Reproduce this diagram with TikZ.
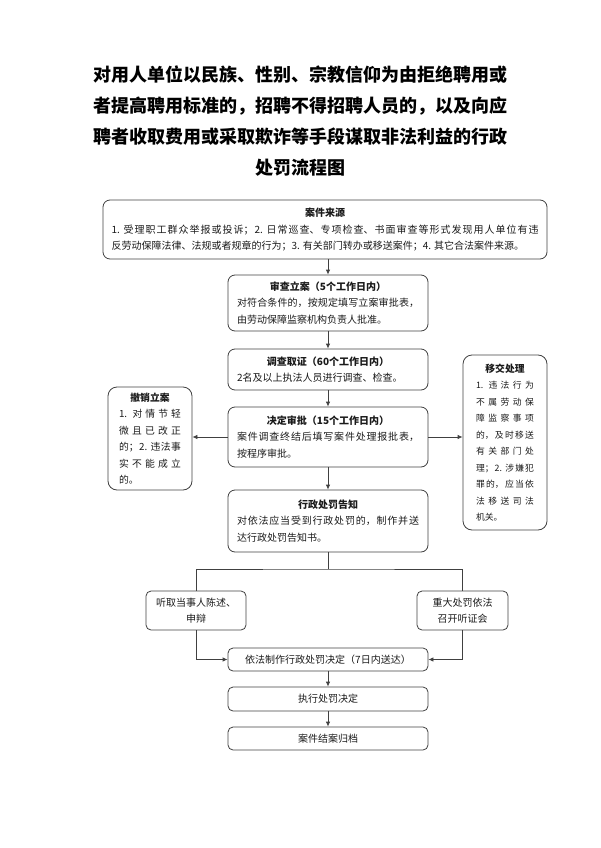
\documentclass[tikz,border=0pt]{standalone}
\usepackage{fontspec}
\setmainfont{Noto Sans CJK SC}
\usetikzlibrary{arrows.meta}
\XeTeXlinebreaklocale "zh"
\XeTeXlinebreakskip=0pt plus 4pt
\definecolor{lc}{HTML}{404040}
\definecolor{tc}{HTML}{1A1A1A}
\newcommand\mybody{\fontsize{10}{16.5}\selectfont\parindent=0pt}
\newcommand\mysmall{\fontsize{8.8}{16.5}\selectfont\parindent=0pt}
\newcommand\myside{\fontsize{9.8}{16.5}\selectfont\parindent=0pt}
\begin{document}
\begin{tikzpicture}[x=1pt,y=-1pt,
 every node/.style={inner sep=0pt},
 box/.style={draw=lc,line width=0.8pt,rounded corners=7pt,inner xsep=9pt,inner ysep=0pt,text width=182pt,align=justify,font=\mybody,text=tc},
 side/.style={draw=lc,line width=0.8pt,rounded corners=9pt,inner ysep=0pt,minimum width=84pt,align=justify,text=tc},
 small/.style={draw=lc,line width=0.8pt,rounded corners=5pt,align=center,font=\mybody,text=tc},
 conn/.style={draw=lc,line width=0.8pt},
 arr/.style={conn,-{Latex[length=5pt,width=4.5pt]}}]
\useasboundingbox (0,0) rectangle (600,848);

\node[align=center,font=\fontsize{18}{31}\selectfont\bfseries,text=black] (title) at (300,121.5)
 {对用人单位以民族、性别、宗教信仰为由拒绝聘用或\\者提高聘用标准的，招聘不得招聘人员的，以及向应\\聘者收取费用或采取欺诈等手段谋取非法利益的行政\\处罚流程图};

\node[box,text width=427pt,inner xsep=8.5pt,minimum height=59pt] (b1) at (325,229.5)
 {{\centering\bfseries 案件来源\par}1. 受理职工群众举报或投诉；2. 日常巡查、专项检查、书面审查等形式发现用人单位有违\linebreak 反劳动保障法律、法规或者规章的行为；3. 有关部门转办或移送案件；4. 其它合法案件来源。};

\node[box,minimum height=56pt] (b2) at (328,303)
 {{\centering\bfseries 审查立案（5个工作日内）\par}对符合条件的，按规定填写立案审批表，\linebreak 由劳动保障监察机构负责人批准。};

\node[box,minimum height=41pt] (b3) at (328,369.5)
 {{\centering\bfseries 调查取证（60个工作日内）\par}2名及以上执法人员进行调查、检查。};

\node[box,minimum height=60pt] (b4) at (328,437)
 {{\centering\bfseries 决定审批（15个工作日内）\par}案件调查终结后填写案件处理报批表，\linebreak 按程序审批。};

\node[box,minimum height=62pt] (b5) at (328,521)
 {{\centering\bfseries 行政处罚告知\par}对依法应当受到行政处罚的，制作并送\linebreak 达行政处罚告知书。};

\node[side,font=\myside,text width=62pt,minimum height=103pt] (L) at (150,438.5)
 {{\centering\bfseries 撤销立案\par}1. 对情节轻\linebreak 微且已改正\linebreak 的；2. 违法事\linebreak 实不能成立\linebreak 的。};

\node[side,font=\mysmall,text width=58pt,minimum height=175pt] (R) at (505,442.5)
 {{\centering\bfseries\fontsize{9.8}{16.5}\selectfont 移交处理\par}1. 违法行为\linebreak 不属劳动保\linebreak 障监察事项\linebreak 的，及时移送\linebreak 有关部门处\linebreak 理；2. 涉嫌犯\linebreak 罪的，应当依\linebreak 法移送司法\linebreak 机关。};

\node[small,minimum width=100pt,minimum height=39pt] (hL) at (196,610.5) {听取当事人陈述、\\申辩};
\node[small,minimum width=91pt,minimum height=39pt] (hR) at (462.5,610.5) {重大处罚依法\\召开听证会};

\node[small,minimum width=200pt,minimum height=23pt] (d1) at (328,659.5) {依法制作行政处罚决定（7日内送达）};
\node[small,minimum width=200pt,minimum height=24pt] (d2) at (328,699) {执行处罚决定};
\node[small,minimum width=200pt,minimum height=23pt] (d3) at (328,738.5) {案件结案归档};

\coordinate (sp) at (328,569);

\draw[arr] (b1.south -| b2.north) -- (b2.north);
\draw[arr] (b2.south) -- (b3.north);
\draw[arr] (b3.south) -- (b4.north);
\draw[arr] (b4.south) -- (b5.north);
\draw[arr] (b4.west) -- (b4.west -| L.east);
\draw[arr] (b4.east) -- (b4.east -| R.west);
\draw[conn] (b5.south) -- (sp);
\draw[conn] (hL.north) |- (sp) -| (hR.north);
\draw[arr] (hL.south) |- (d1.west);
\draw[arr] (hR.south) |- (d1.east);
\draw[arr] (d1.south) -- (d2.north);
\draw[arr] (d2.south) -- (d3.north);
\end{tikzpicture}
\end{document}
